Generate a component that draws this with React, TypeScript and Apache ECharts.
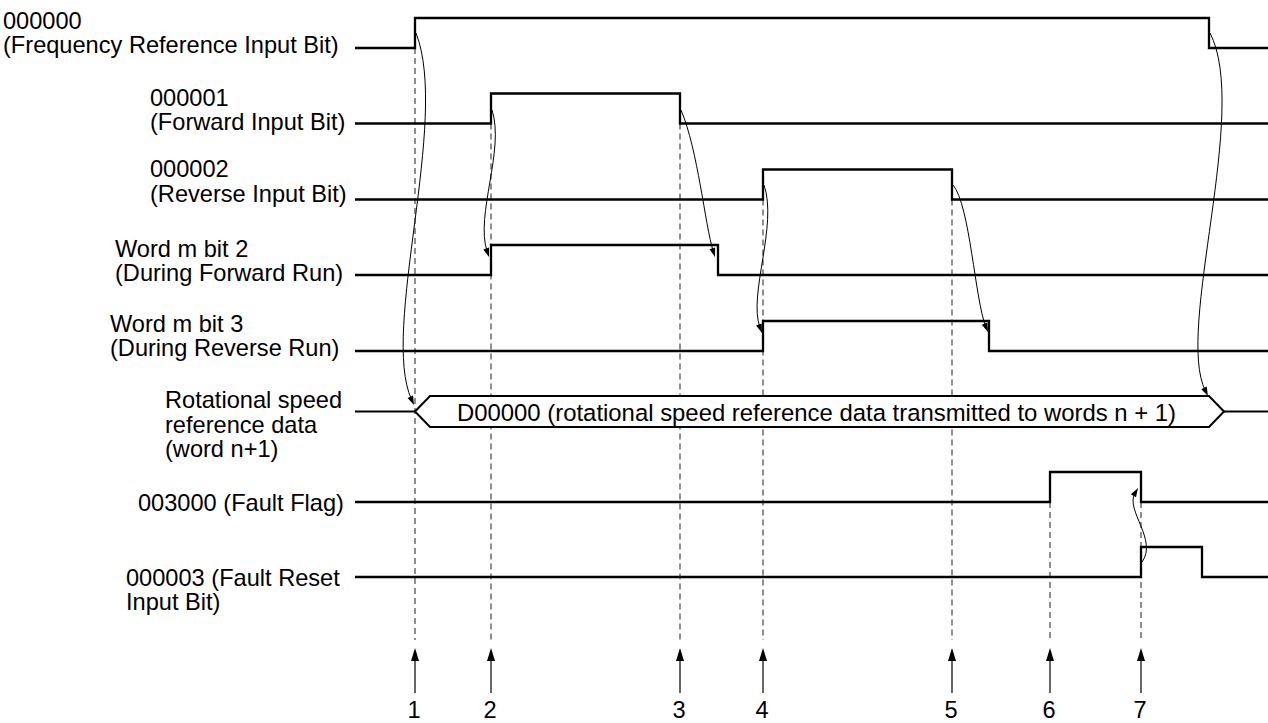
import { useEffect, useRef } from "react";
import * as echarts from "echarts";

// ---------- DATA (time units: 0 = start of traces) ----------
const traceEnd = 913;
const markerTimes = [60, 136, 325, 408, 597, 695, 786];
const markerLabels = ["1", "2", "3", "4", "5", "6", "7"];
// trace row where each marker's dashed guide starts
const markerFromRow = [0, 1, 1, 2, 2, 6, 6];

const signalLabels = [
  ["000000", "(Frequency Reference Input Bit)"],
  ["000001", "(Forward Input Bit)"],
  ["000002", "(Reverse Input Bit)"],
  ["Word m bit 2", "(During Forward Run)"],
  ["Word m bit 3", "(During Reverse Run)"],
  ["Rotational speed", "reference data", "(word n+1)"],
  ["003000 (Fault Flag)"],
  ["000003 (Fault Reset", "Input Bit)"],
];

// [rise, fall] of each bit signal
const freqRefPulse = [60, 854];
const forwardPulse = [136, 325];
const reversePulse = [408, 597];
const fwdRunPulse = [136, 363];
const revRunPulse = [408, 634];
const faultFlagPulse = [695, 786];
const faultResetPulse = [786, 847];
const bitPulses = [
  { row: 0, pulse: freqRefPulse },
  { row: 1, pulse: forwardPulse },
  { row: 2, pulse: reversePulse },
  { row: 3, pulse: fwdRunPulse },
  { row: 4, pulse: revRunPulse },
  { row: 6, pulse: faultFlagPulse },
  { row: 7, pulse: faultResetPulse },
];

// data bus (row 5)
const busWindow = [60, 869];
const busText = "D00000 (rotational speed reference data transmitted to words n + 1)";

// cause -> effect curved arrows: start, control 1, control 2, end  (time, y)
const causeArrows = [
  [[61, 33], [95, 120], [25, 330], [59, 405]],
  [[137, 110], [150, 150], [120, 215], [134, 257]],
  [[326, 110], [343, 150], [350, 225], [360, 257]],
  [[409, 185], [423, 225], [393, 295], [407, 333]],
  [[598, 185], [615, 205], [620, 300], [633, 332]],
  [[855, 33], [895, 110], [820, 330], [853, 396]],
  [[787, 562], [803, 540], [770, 510], [783, 488]],
];

// ---------- LAYOUT ----------
const W = 1268;
const H = 723;
const X0 = 355; // px of time 0
const rowBase = [48, 123.5, 199.5, 275, 351, 411.5, 502, 577];
const LEVEL_H = 30;
const BUS_HALF = 15.5;
const BUS_SLOPE = 15;
const GUIDE_END = 640;
const ARROW_TOP = 648;
const ARROW_BOTTOM = 693;
const NUM_BOTTOM = 722;
const labelX = [3, 150, 150, 115, 110, 165, 138, 126];
const labelY0 = [20.5, 97.5, 169, 248.5, 323.5, 400, 503, 577.5];
const LINE_H = 24.5;
const FONT = '"Liberation Sans", Arial, Helvetica, sans-serif';
const FS = 23.6;

export default function App() {
  const ref = useRef<HTMLDivElement>(null);

  useEffect(() => {
    if (!ref.current) return;
    const chart = echarts.init(ref.current, undefined, { renderer: "svg" });

    const traceSeries = bitPulses.map(({ row, pulse }) => {
      const lo = rowBase[row];
      const hi = lo - LEVEL_H;
      return {
        type: "line",
        silent: true,
        symbol: "none",
        z: 3,
        lineStyle: { color: "#000", width: 2.3, join: "miter" },
        data: [
          [0, lo],
          [pulse[0], lo],
          [pulse[0], hi],
          [pulse[1], hi],
          [pulse[1], lo],
          [traceEnd, lo],
        ],
      };
    });

    const markerSeries = {
      type: "custom",
      silent: true,
      z: 1,
      data: markerTimes.map((t, i) => [t, i]),
      encode: { x: 0 },
      renderItem: (params: any, api: any) => {
        const i = params.dataIndex;
        const t = markerTimes[i];
        const top = api.coord([t, rowBase[markerFromRow[i]]]);
        const bot = api.coord([t, GUIDE_END]);
        const a1 = api.coord([t, ARROW_BOTTOM]);
        const a2 = api.coord([t, ARROW_TOP]);
        const num = api.coord([t - 1, NUM_BOTTOM]);
        return {
          type: "group",
          children: [
            {
              type: "line",
              shape: { x1: top[0], y1: top[1], x2: bot[0], y2: bot[1] },
              style: { stroke: "#555", lineWidth: 1.3, lineDash: [6, 4] },
            },
            {
              type: "line",
              shape: { x1: a1[0], y1: a1[1], x2: a2[0], y2: a2[1] + 10 },
              style: { stroke: "#000", lineWidth: 1.2 },
            },
            {
              type: "polygon",
              shape: {
                points: [
                  [a2[0], a2[1]],
                  [a2[0] - 4, a2[1] + 13],
                  [a2[0] + 4, a2[1] + 13],
                ],
              },
              style: { fill: "#000" },
            },
            {
              type: "text",
              style: {
                text: markerLabels[i],
                x: num[0],
                y: num[1],
                align: "center",
                verticalAlign: "bottom",
                fill: "#000",
                fontSize: FS,
                fontFamily: FONT,
              },
            },
          ],
        };
      },
    };

    const busSeries = {
      type: "custom",
      silent: true,
      z: 4,
      data: [[busWindow[0], 0]],
      encode: { x: 0 },
      renderItem: (_params: any, api: any) => {
        const c = rowBase[5];
        const p0 = api.coord([0, c]);
        const l = api.coord([busWindow[0], c]);
        const lt = api.coord([busWindow[0] + BUS_SLOPE, c - BUS_HALF]);
        const lb = api.coord([busWindow[0] + BUS_SLOPE, c + BUS_HALF]);
        const r = api.coord([busWindow[1], c]);
        const rt = api.coord([busWindow[1] - BUS_SLOPE, c - BUS_HALF]);
        const rb = api.coord([busWindow[1] - BUS_SLOPE, c + BUS_HALF]);
        const pe = api.coord([traceEnd, c]);
        const mid = api.coord([(busWindow[0] + busWindow[1]) / 2 - 3, c]);
        return {
          type: "group",
          children: [
            {
              type: "line",
              shape: { x1: p0[0], y1: p0[1], x2: l[0], y2: l[1] },
              style: { stroke: "#000", lineWidth: 2.2 },
            },
            {
              type: "line",
              shape: { x1: r[0], y1: r[1], x2: pe[0], y2: pe[1] },
              style: { stroke: "#000", lineWidth: 2.2 },
            },
            {
              type: "polygon",
              shape: { points: [l, lt, rt, r, rb, lb] },
              style: { fill: "#fff", stroke: "#000", lineWidth: 2, lineJoin: "miter" },
            },
            {
              type: "text",
              style: {
                text: busText,
                x: mid[0],
                y: mid[1] + 1,
                align: "center",
                verticalAlign: "middle",
                fill: "#000",
                fontSize: 23.9,
                fontFamily: FONT,
              },
            },
          ],
        };
      },
    };

    const curveSeries = {
      type: "custom",
      silent: true,
      z: 6,
      data: causeArrows.map((c) => [c[0][0], c[0][1]]),
      encode: { x: 0, y: 1 },
      renderItem: (params: any, api: any) => {
        const c = causeArrows[params.dataIndex];
        const p0 = api.coord(c[0]);
        const c1 = api.coord(c[1]);
        const c2 = api.coord(c[2]);
        const p3 = api.coord(c[3]);
        let dx = p3[0] - c2[0];
        let dy = p3[1] - c2[1];
        const len = Math.hypot(dx, dy) || 1;
        dx /= len;
        dy /= len;
        const L = 9;
        const Wd = 3;
        const bx = p3[0] - dx * L;
        const by = p3[1] - dy * L;
        return {
          type: "group",
          children: [
            {
              type: "bezierCurve",
              shape: {
                x1: p0[0], y1: p0[1],
                cpx1: c1[0], cpy1: c1[1],
                cpx2: c2[0], cpy2: c2[1],
                x2: bx + dx * 3, y2: by + dy * 3,
              },
              style: { stroke: "#000", lineWidth: 1, fill: null },
            },
            {
              type: "polygon",
              shape: {
                points: [
                  [p3[0], p3[1]],
                  [bx - dy * Wd, by + dx * Wd],
                  [bx + dy * Wd, by - dx * Wd],
                ],
              },
              style: { fill: "#000" },
            },
          ],
        };
      },
    };

    const labelGraphics: any[] = [];
    signalLabels.forEach((lines, i) => {
      lines.forEach((line, j) => {
        labelGraphics.push({
          type: "text",
          x: labelX[i],
          y: labelY0[i] + j * LINE_H,
          silent: true,
          style: {
            text: line,
            fill: "#000",
            fontSize: FS,
            fontFamily: FONT,
            verticalAlign: "middle",
            align: "left",
          },
        });
      });
    });

    chart.setOption({
      animation: false,
      backgroundColor: "#fff",
      grid: { left: 0, right: 0, top: 0, bottom: 0, containLabel: false },
      xAxis: { type: "value", min: -X0, max: W - X0, show: false },
      yAxis: { type: "value", min: 0, max: H, inverse: true, show: false },
      series: [markerSeries, ...traceSeries, busSeries, curveSeries],
      graphic: labelGraphics,
    });

    return () => chart.dispose();
  }, []);

  return (
    <div
      ref={ref}
      style={{ position: "fixed", left: 0, top: 0, width: W, height: H, background: "#fff" }}
    />
  );
}
